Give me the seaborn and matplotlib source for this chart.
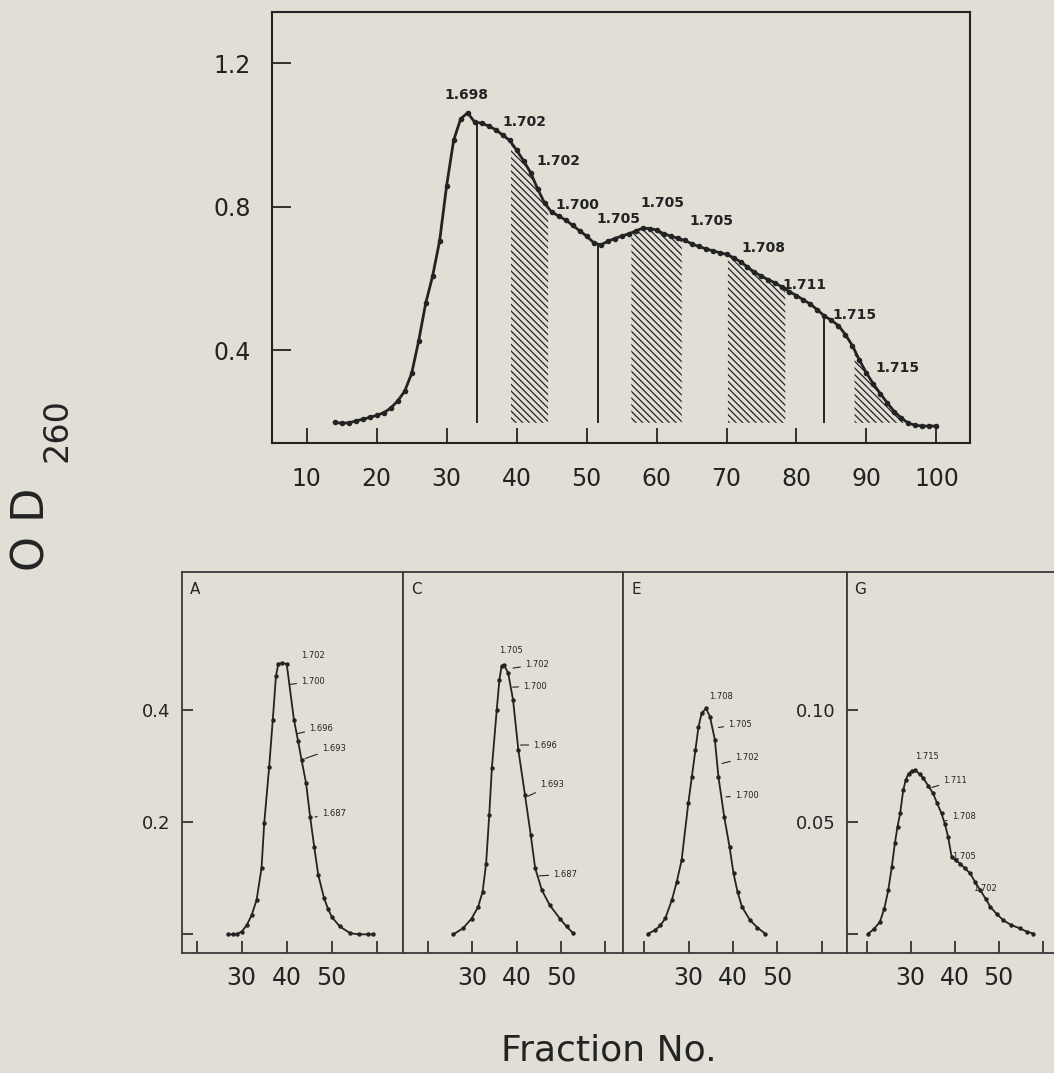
import matplotlib
matplotlib.use("Agg")
import numpy as np
import matplotlib.pyplot as plt
import seaborn as sns

# --- perfil principal: OD260 por fracao ---
frac_main = list(range(14, 101))
od_main = [0.198, 0.196, 0.197, 0.202, 0.207, 0.212, 0.218, 0.225, 0.238, 0.258,
           0.285, 0.335, 0.425, 0.530, 0.607, 0.705, 0.859, 0.985, 1.045, 1.062,
           1.036, 1.033, 1.025, 1.015, 1.000, 0.985, 0.958, 0.928, 0.895, 0.850,
           0.810, 0.785, 0.774, 0.763, 0.748, 0.733, 0.718, 0.700, 0.693, 0.703,
           0.711, 0.718, 0.724, 0.732, 0.740, 0.739, 0.735, 0.725, 0.718, 0.712,
           0.706, 0.697, 0.689, 0.683, 0.677, 0.672, 0.667, 0.658, 0.646, 0.632,
           0.617, 0.606, 0.596, 0.587, 0.575, 0.563, 0.552, 0.540, 0.528, 0.512,
           0.495, 0.483, 0.468, 0.443, 0.412, 0.372, 0.336, 0.305, 0.278, 0.252,
           0.228, 0.210, 0.196, 0.190, 0.188, 0.188, 0.188]

# cortes (linhas verticais) e faixas hachuradas
cut_fracs = [34.3, 51.6, 84.0]
band_lo = [39.2, 56.4, 70.2, 88.3]
band_hi = [44.5, 63.6, 78.4, 95.4]
baseline = 0.197

# densidades anotadas no perfil principal
dens_main = ['1.698', '1.702', '1.702', '1.700', '1.705', '1.705', '1.705',
             '1.708', '1.711', '1.715', '1.715']
dens_main_x = [32.9, 41.1, 46.0, 48.7, 54.6, 60.9, 67.8, 75.3, 81.1, 88.3, 94.4]
dens_main_y = [1.112, 1.037, 0.927, 0.805, 0.765, 0.809, 0.761, 0.684, 0.581, 0.498, 0.349]

# --- perfis das faixas reanalisadas ---
panel_names = ['A', 'C', 'E', 'G']

frac_a = [27.0, 28.0, 29.0, 30.0, 31.1, 32.2, 33.3, 34.4, 35.0, 36.1,
          36.9, 37.6, 38.1, 39.0, 40.0, 41.6, 42.5, 43.3, 44.3, 45.2,
          46.1, 47.0, 48.3, 49.2, 50.0, 51.8, 54.1, 56.0, 58.0, 59.2]
od_a = [0.0, 0.0, 0.001, 0.005, 0.016, 0.034, 0.061, 0.118, 0.198, 0.298,
        0.382, 0.459, 0.481, 0.483, 0.481, 0.382, 0.345, 0.310, 0.269, 0.209,
        0.156, 0.106, 0.064, 0.045, 0.031, 0.014, 0.002, 0.0, 0.0, 0.0]

frac_c = [25.7, 27.9, 29.8, 31.3, 32.3, 33.1, 33.8, 34.4, 35.5, 36.1, 36.6, 37.1,
          38.1, 39.2, 40.4, 41.9, 43.2, 44.2, 45.7, 47.5, 49.8, 51.3, 52.8]
od_c = [0.0, 0.011, 0.028, 0.049, 0.076, 0.126, 0.212, 0.296, 0.399, 0.453, 0.477, 0.480,
        0.465, 0.417, 0.328, 0.248, 0.177, 0.118, 0.079, 0.052, 0.028, 0.014, 0.002]

frac_e = [20.9, 22.4, 23.6, 24.7, 26.2, 27.3, 28.4, 29.9, 30.7, 31.5, 32.2, 32.9,
          33.9, 34.8, 35.9, 36.7, 38.0, 39.2, 40.1, 41.0, 42.0, 43.8, 45.5, 47.2]
od_e = [0.0004, 0.0019, 0.0040, 0.0071, 0.0153, 0.0234, 0.0331, 0.0584, 0.0702, 0.0820,
        0.0925, 0.0985, 0.1007, 0.0970, 0.0866, 0.0702, 0.0524, 0.0390, 0.0272, 0.0190,
        0.0123, 0.0064, 0.0030, 0.0004]

frac_g = [20.4, 21.7, 23.0, 24.0, 24.9, 25.7, 26.4, 27.0, 27.6, 28.3,
          28.9, 29.5, 30.2, 31.0, 32.0, 32.9, 34.0, 35.1, 36.0, 37.0,
          37.8, 38.5, 39.3, 40.2, 41.2, 42.3, 43.5, 44.6, 45.8, 47.0,
          48.1, 49.5, 51.0, 52.8, 54.8, 56.4, 57.9]
od_g = [0.0004, 0.0025, 0.0056, 0.0115, 0.0197, 0.0300, 0.0406, 0.0480, 0.0539, 0.0643,
        0.0690, 0.0717, 0.0728, 0.0732, 0.0715, 0.0695, 0.0662, 0.0628, 0.0585, 0.0539,
        0.0490, 0.0435, 0.0346, 0.0330, 0.0316, 0.0295, 0.0272, 0.0235, 0.0197, 0.0160,
        0.0123, 0.0092, 0.0064, 0.0042, 0.0027, 0.0012, 0.0004]

# densidades anotadas nos paineis: texto, posicao do texto, ponto do traco
lab_a = ['1.702', '1.700', '1.696', '1.693', '1.687']
lab_a_xy = [(45.8, 0.496), (43.2, 0.450), (45.0, 0.367), (47.8, 0.331), (47.8, 0.215)]
lab_a_ptr = [None, (40.8, 0.445), (42.2, 0.357), (44.1, 0.313), (46.3, 0.209)]

lab_c = ['1.705', '1.702', '1.700', '1.696', '1.693', '1.687']
lab_c_xy = [(38.7, 0.505), (41.9, 0.480), (41.5, 0.442), (43.8, 0.337), (45.3, 0.266), (48.3, 0.107)]
lab_c_ptr = [None, (39.2, 0.474), (39.1, 0.440), (40.9, 0.337), (42.6, 0.246), (45.1, 0.104)]

lab_e = ['1.708', '1.705', '1.702', '1.700']
lab_e_xy = [(37.2, 0.1062), (38.9, 0.0937), (40.4, 0.0789), (40.4, 0.0619)]
lab_e_ptr = [None, (36.7, 0.0922), (37.5, 0.0762), (38.4, 0.0613)]

lab_g = ['1.715', '1.711', '1.708', '1.705', '1.702']
lab_g_xy = [(33.6, 0.0795), (37.4, 0.0685), (39.3, 0.0524), (42.0, 0.0349), (46.9, 0.0205)]
lab_g_ptr = [None, (34.8, 0.0655), (37.8, 0.0506), None, None]

PAPER = '#e1ded6'
INK = '#232323'

sns.set_style('ticks')
plt.rcParams['font.family'] = ['DejaVu Sans']
plt.rcParams['hatch.linewidth'] = 0.9
plt.rcParams['axes.edgecolor'] = INK

fig = plt.figure(figsize=(10.54, 10.73), dpi=100)
fig.patch.set_facecolor(PAPER)

# ---------- grafico superior ----------
ax = fig.add_axes([0.2578, 0.5869, 0.6625, 0.4022])
ax.set_facecolor(PAPER)
sns.lineplot(x=frac_main, y=od_main, ax=ax, color=INK, lw=2.0,
             marker='o', markersize=4, markeredgewidth=0)

od_cut = np.interp(cut_fracs, frac_main, od_main)
ax.vlines(cut_fracs, baseline, od_cut, color=INK, lw=1.4)

for lo, hi in zip(band_lo, band_hi):
    xs = [lo] + [f for f in frac_main if lo < f < hi] + [hi]
    ys = np.interp(xs, frac_main, od_main)
    ax.fill_between(xs, baseline, ys, facecolor='none', edgecolor=INK,
                    hatch='\\' * 5, linewidth=0)

for t, x, y in zip(dens_main, dens_main_x, dens_main_y):
    ax.text(x, y, t, ha='center', va='center', fontsize=10, fontweight='bold', color=INK)

ax.set_xlim(5, 104.8)
ax.set_ylim(0.14, 1.344)
ax.set_xticks(range(10, 101, 10))
ax.set_yticks([0.4, 0.8, 1.2])
ax.set_yticklabels(['0.4', '0.8', '1.2'])
ax.tick_params(axis='x', direction='in', length=11, width=1.3, labelsize=17, pad=17, colors=INK)
ax.tick_params(axis='y', direction='in', length=14, width=1.3, labelsize=17, pad=15, colors=INK)
for s in ax.spines.values():
    s.set_linewidth(1.5)
ax.set_xlabel('')
ax.set_ylabel('')

# ---------- paineis inferiores ----------
panel_frac = [frac_a, frac_c, frac_e, frac_g]
panel_od = [od_a, od_c, od_e, od_g]
panel_lab = [lab_a, lab_c, lab_e, lab_g]
panel_lab_xy = [lab_a_xy, lab_c_xy, lab_e_xy, lab_g_xy]
panel_lab_ptr = [lab_a_ptr, lab_c_ptr, lab_e_ptr, lab_g_ptr]
panel_pos = [[0.1724, 0.1118, 0.2103, 0.3551],
             [0.3826, 0.1118, 0.2087, 0.3551],
             [0.5914, 0.1118, 0.2120, 0.3551],
             [0.8033, 0.1118, 0.2100, 0.3551]]
panel_xlim = [(16.67, 65.91), (14.34, 64.14), (15.26, 65.63), (15.45, 65.75)]
panel_ylim = [(-0.0333, 0.645), (-0.0333, 0.645), (-0.0083, 0.1615), (-0.0083, 0.1615)]

for i, name in enumerate(panel_names):
    axp = fig.add_axes(panel_pos[i])
    axp.set_facecolor(PAPER)
    sns.lineplot(x=panel_frac[i], y=panel_od[i], ax=axp, color=INK, lw=1.3,
                 marker='o', markersize=3.2, markeredgewidth=0)
    for t, xy, ptr in zip(panel_lab[i], panel_lab_xy[i], panel_lab_ptr[i]):
        if ptr is None:
            axp.text(xy[0], xy[1], t, ha='center', va='center', fontsize=6, color=INK)
        else:
            axp.annotate(t, xy=ptr, xytext=xy, ha='left', va='center', fontsize=6, color=INK,
                         arrowprops=dict(arrowstyle='-', color=INK, lw=0.8,
                                         shrinkA=1, shrinkB=0))
    axp.text(0.035, 0.955, name, transform=axp.transAxes, fontsize=11,
             ha='left', va='center', color=INK)
    axp.set_xlim(*panel_xlim[i])
    axp.set_ylim(*panel_ylim[i])
    axp.set_xticks([20, 30, 40, 50, 60])
    axp.set_xticklabels(['', '30', '40', '50', ''])
    if name == 'A':
        axp.set_yticks([0, 0.2, 0.4])
        axp.set_yticklabels(['', '0.2', '0.4'])
    elif name == 'G':
        axp.set_yticks([0, 0.05, 0.10])
        axp.set_yticklabels(['', '0.05', '0.10'])
    else:
        axp.set_yticks([])
    axp.tick_params(axis='x', direction='in', length=9, width=1.2, labelsize=17, pad=9, colors=INK)
    axp.tick_params(axis='y', direction='in', length=8, width=1.2, labelsize=13, pad=8, colors=INK)
    for s in axp.spines.values():
        s.set_linewidth(1.3)
        s.set_color('#3a3a3a')
    axp.set_xlabel('')
    axp.set_ylabel('')

# ---------- rotulos dos eixos ----------
fig.text(0.0304, 0.507, 'O D', rotation=90, ha='center', va='center', fontsize=32, color=INK)
fig.text(0.054, 0.599, '260', rotation=90, ha='center', va='center', fontsize=24, color=INK)
fig.text(0.578, 0.021, 'Fraction No.', ha='center', va='center', fontsize=26, color=INK)

fig.savefig('out.png', dpi=100, facecolor=PAPER)
